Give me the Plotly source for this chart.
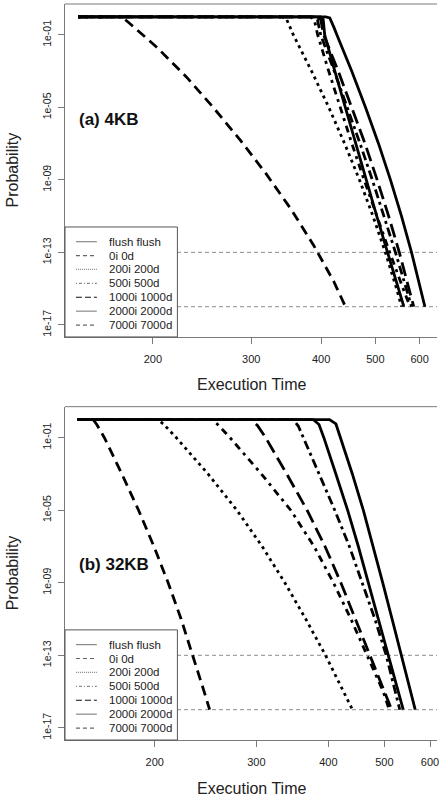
import math
import plotly.graph_objects as go

# ---------------- data ----------------
series_names = ["flush flush", "0i 0d", "200i 200d", "500i 500d",
                "1000i 1000d", "2000i 2000d", "7000i 7000d"]

x_tick_vals = [200, 300, 400, 500, 600]
y_tick_vals = [1e-1, 1e-5, 1e-9, 1e-13, 1e-17]
y_tick_text = ["1e-01", "1e-05", "1e-09", "1e-13", "1e-17"]
threshold_probs = [1e-13, 1e-16]

# common probability levels (log10) used for the readings of the declining part
lp_levels = [-1, -3, -5, -7, -9, -11, -13, -15, -16]

# Panel (a) 4KB : execution time, log10(probability)
a_flush_t = [147, 407.6, 414.5, 418.5, 422, 426.9, 453.8, 480.3, 506.7, 532.2, 556.9, 580.4, 602.7, 613.3]
a_flush_lp = [0, 0, -0.06, -0.31, -0.61] + lp_levels
a_0i_t = [147, 388.0, 393.9, 399.3, 422.3, 445.7, 469.6, 493.9, 518.3, 543.2, 568.0, 580.4]
a_0i_lp = [0, 0, -0.145] + lp_levels
a_200i_t = [147, 340.9, 346.8, 356.8, 384.6, 412.9, 440.7, 468.4, 495.2, 521.1, 545.7, 557.1]
a_200i_lp = [0, 0, -0.117] + lp_levels
a_500i_t = [147, 382.9, 388.8, 394.4, 412.7, 432.6, 454.0, 477.5, 503.0, 530.5, 560.6, 576.7]
a_500i_lp = [0, 0, -0.145] + lp_levels
a_1000i_t = [147, 393.3, 399.3, 404.2, 429.3, 454.2, 479.3, 503.8, 528.2, 551.9, 574.6, 585.7]
a_1000i_lp = [0, 0, -0.145] + lp_levels
a_2000i_t = [147, 398.7, 403.4, 405.9, 423.2, 441.6, 460.9, 481.5, 503.0, 525.8, 549.7, 562.4]
a_2000i_lp = [0, 0, -0.145] + lp_levels
a_7000i_t = [147, 174.5, 177.4, 181.7, 202.8, 229.4, 255.8, 286.5, 318.3, 353.6, 388.2, 421.7, 442.2]
a_7000i_lp = [0, 0, -0.09, -0.354, -1.645, -3.30, -4.956, -6.793, -8.63, -10.63, -12.63, -14.63, -16]

# Panel (b) 32KB
b_flush_t = [147, 401.8, 412.2, 419.7, 440.1, 459.8, 478.5, 496.9, 515.8, 535.1, 555.2, 565.6]
b_flush_lp = [0, 0, -0.244] + lp_levels
b_0i_t = [147, 347.0, 354.7, 361.9, 386.0, 410.3, 435.0, 458.4, 481.6, 503.8, 522.7, 531.9]
b_0i_lp = [0, 0, -0.355] + lp_levels
b_200i_t = [147, 202.4, 207.0, 218.0, 247.4, 277.6, 307.1, 336.2, 365.4, 395.4, 424.8, 440.4]
b_200i_lp = [0, 0, -0.244] + lp_levels
b_500i_t = [147, 251.0, 256.6, 270.1, 306.1, 344.2, 377.8, 408.2, 437.6, 467.1, 497.8, 509.9]
b_500i_lp = [0, 0, -0.244] + lp_levels
b_1000i_t = [147, 293.6, 301.3, 311.4, 338.7, 367.4, 394.7, 420.4, 445.5, 471.9, 499.9, 514.9]
b_1000i_lp = [0, 0, -0.327] + lp_levels
b_2000i_t = [147, 376.4, 385.3, 392.8, 412.1, 431.9, 450.8, 469.1, 487.5, 506.4, 527.3, 539.2]
b_2000i_lp = [0, 0, -0.272] + lp_levels
b_7000i_t = [147, 156.4, 158.7, 163.6, 175.4, 187.5, 199.4, 211.0, 222.2, 233.0, 243.6, 249.0]
b_7000i_lp = [0, 0, -0.272] + lp_levels

panel_a = {
    "flush flush": (a_flush_t, a_flush_lp), "0i 0d": (a_0i_t, a_0i_lp),
    "200i 200d": (a_200i_t, a_200i_lp), "500i 500d": (a_500i_t, a_500i_lp),
    "1000i 1000d": (a_1000i_t, a_1000i_lp), "2000i 2000d": (a_2000i_t, a_2000i_lp),
    "7000i 7000d": (a_7000i_t, a_7000i_lp),
}
panel_b = {
    "flush flush": (b_flush_t, b_flush_lp), "0i 0d": (b_0i_t, b_0i_lp),
    "200i 200d": (b_200i_t, b_200i_lp), "500i 500d": (b_500i_t, b_500i_lp),
    "1000i 1000d": (b_1000i_t, b_1000i_lp), "2000i 2000d": (b_2000i_t, b_2000i_lp),
    "7000i 7000d": (b_7000i_t, b_7000i_lp),
}
panel_labels = ["(a) 4KB", "(b) 32KB"]

# ---------------- styles ----------------
FONT = "Liberation Sans, Arial, Helvetica, sans-serif"
plot_dash = {"flush flush": "solid", "0i 0d": "9px,4px,3px,4px", "200i 200d": "3px,4px",
             "500i 500d": "3px,5px,7px,5px", "1000i 1000d": "14px,6px",
             "2000i 2000d": "solid", "7000i 7000d": "10px,6px"}
legend_dash = {"flush flush": "solid", "0i 0d": "4px,3px", "200i 200d": "1px,1px",
               "500i 500d": "1px,2px,3px,2px", "1000i 1000d": "6px,3px",
               "2000i 2000d": "solid", "7000i 7000d": "4px,3px"}
legend_color = {n: "#8a8a8a" for n in series_names}
legend_color["1000i 1000d"] = "#111111"
legend_color["0i 0d"] = "#666666"
legend_color["7000i 7000d"] = "#666666"

W, H = 439, 798
ML, MR, MT, MB = 65, 0, 4, 58
plot_w = W - ML - MR
x_ranges = [[math.log10(139.3), math.log10(644.6)], [math.log10(139.8), math.log10(617.0)]]
y_range = [-17.67, 0.71]
domains = [[0.5476, 1.0], [0.0, 0.4529]]
panel_h = 333.0

fig = go.Figure()
for pi, data in enumerate([panel_a, panel_b]):
    xa = "x" if pi == 0 else "x2"
    ya = "y" if pi == 0 else "y2"
    for thr in threshold_probs:
        fig.add_trace(go.Scatter(
            x=[10 ** x_ranges[pi][0], 10 ** x_ranges[pi][1]], y=[thr, thr],
            mode="lines", line=dict(color="#8c8c8c", width=1, dash="4px,3px"),
            xaxis=xa, yaxis=ya, showlegend=False, hoverinfo="skip"))
    for name in series_names:
        t, lp = data[name]
        fig.add_trace(go.Scatter(
            x=t, y=[10 ** v for v in lp], mode="lines", name=name,
            line=dict(color="black", width=2.8, dash=plot_dash[name]),
            xaxis=xa, yaxis=ya, showlegend=False))

axis_common = dict(type="log", showline=True, linecolor="#7a7a7a", linewidth=1,
                   ticks="outside", ticklen=6, tickcolor="#7a7a7a", tickwidth=1,
                   showgrid=False, zeroline=False, mirror=False,
                   tickfont=dict(family=FONT, size=11, color="#222"))

layout = dict(width=W, height=H, margin=dict(l=ML, r=MR, t=MT, b=MB),
              paper_bgcolor="white", plot_bgcolor="white", showlegend=False,
              font=dict(family=FONT, color="#111"))
for pi in range(2):
    sx = "" if pi == 0 else "2"
    layout["xaxis" + sx] = dict(axis_common, range=x_ranges[pi], anchor="y" + sx,
                                tickmode="array", tickvals=x_tick_vals,
                                ticktext=[str(v) for v in x_tick_vals],
                                ticklabelstandoff=6, ticklabeloverflow="allow")
    layout["yaxis" + sx] = dict(axis_common, range=y_range, anchor="x" + sx,
                                domain=domains[pi], tickmode="array",
                                tickvals=y_tick_vals, ticktext=y_tick_text,
                                tickangle=-90, tickfont=dict(family=FONT, size=10.5, color="#222"),
                                ticklabelstandoff=3)
fig.update_layout(**layout)

shapes = []
annotations = []
row0 = 95.3
row_step = 13.9
for pi in range(2):
    sx = "" if pi == 0 else "2"
    xd = "x" + sx + " domain"
    yd = "y" + sx + " domain"
    shapes.append(dict(type="line", xref=xd, yref=yd, x0=0, x1=1, y0=1, y1=1,
                       line=dict(color="#7a7a7a", width=1), layer="above"))
    shapes.append(dict(type="rect", xref=xd, yref=yd, x0=0, x1=113 / plot_w, y0=0, y1=110 / panel_h,
                       fillcolor="white", line=dict(color="#555", width=1), layer="above"))
    for k, name in enumerate(series_names):
        yy = (row0 - row_step * k) / panel_h
        shapes.append(dict(type="line", xref=xd, yref=yd, x0=11 / plot_w, x1=32 / plot_w,
                           y0=yy, y1=yy, layer="above",
                           line=dict(color=legend_color[name], width=1.2, dash=legend_dash[name])))
        annotations.append(dict(xref=xd, yref=yd, x=42 / plot_w, y=yy, text=name,
                                showarrow=False, xanchor="left", yanchor="middle",
                                font=dict(family=FONT, size=11.5, color="#222")))
    annotations.append(dict(xref=xd, yref=yd, x=11.7 / plot_w, y=[0.654, 0.527][pi],
                            text="<b>" + panel_labels[pi] + "</b>", showarrow=False,
                            xanchor="left", yanchor="middle",
                            font=dict(family=FONT, size=17, color="#111")))
    annotations.append(dict(xref=xd, yref=yd, x=0.5, y=0, yshift=-48, text="Execution Time",
                            showarrow=False, xanchor="center", yanchor="middle",
                            font=dict(family=FONT, size=16, color="#222")))
    annotations.append(dict(xref=xd, yref=yd, x=0, y=0.5, xshift=-53, text="Probability",
                            textangle=-90, showarrow=False, xanchor="center", yanchor="middle",
                            font=dict(family=FONT, size=16, color="#222")))

fig.update_layout(shapes=shapes, annotations=annotations)
fig.write_html("out.html", config={"displayModeBar": False},
               post_script="document.body.style.margin='0';")
